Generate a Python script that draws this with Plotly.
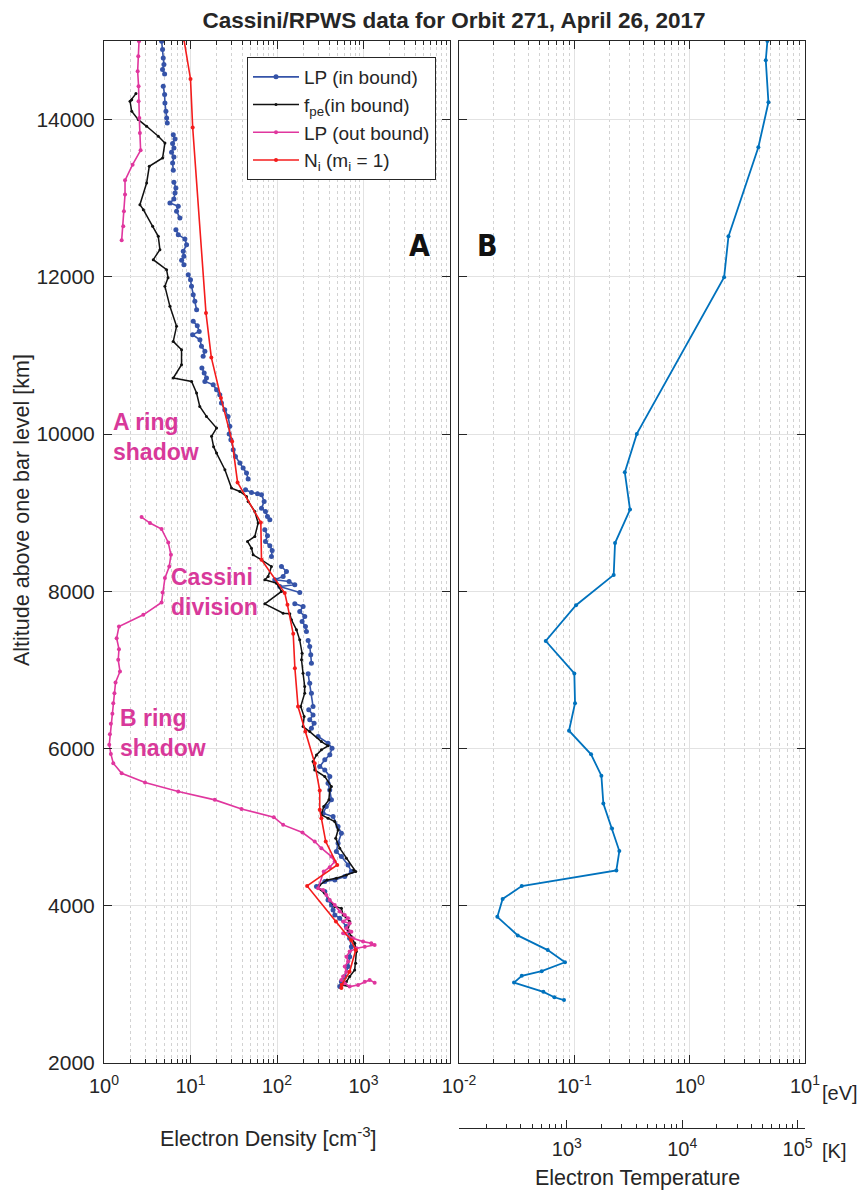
import math
import plotly.graph_objects as go

# ---------------- data ----------------
# LP (in bound): altitude [km], density [cm^-3]; None = gap between segments
lp_in_alt = [14997, 14891, 14785, 14700, 14636, 14581, None,
             14424, 14318, 14212, 14106, 14021, 13958, None,
             13809, 13754, 13695, 13640, 13584, 13525, 13449, 13355, None,
             13203, 13130, 13067, 12990, 12940, 12897, 12834, 12749, None,
             12600, 12537, 12482, 12409, 12325, 12261, 12210, 12155, None,
             12028, 11964, 11879, 11773, 11688, 11582, None,
             11434, 11379, 11306, 11264, 11200, 11116, 11052, 10989, None,
             10840, 10776, 10713, 10670, 10628, 10564, 10501, 10395, 10310, 10225, 10098, 10000,
             9928, 9801, 9716, 9631, 9567, 9504, 9427, None,
             9291, 9258, 9241, 9228, 9143, 9058, 9016, 8952, 8910, None,
             8783, 8706, 8634, 8579, 8520, 8443, None,
             8316, 8252, 8189, 8146, 8125, 8083, 8061, 7985, None,
             7841, 7807, 7743, 7680, 7616, 7552, 7489, None,
             7374, 7298, 7192, 7086, None,
             6950, 6831, 6704, 6535, None,
             6492, 6428, 6365, 6322, 6259, None,
             6153, 6068, 6004, 5920, 5856, 5771, 5728, 5644, 5559, 5474, 5347, 5262, 5177, 5135,
             5007, 4923, 4795, 4689, 4626, 4520, 4435, 4371, 4329, 4308, 4244, 4180, 4074, 4011,
             3947, 3883, 3841, 3735, 3586, 3480, 3353, 3226, 3099, 3035, 2972]
lp_in_ne = [4.64, 4.75, 4.84, 4.93, 4.75, 5.02, None,
            4.84, 5.02, 5.06, 5.20, 5.30, 5.39, None,
            6.32, 6.61, 6.21, 6.43, 6.04, 6.43, 6.21, 6.32, None,
            6.43, 6.78, 6.61, 6.43, 5.78, 7.22, 6.90, 7.54, None,
            6.78, 7.22, 8.61, 9.01, 8.25, 8.39, 7.90, 8.39, None,
            9.41, 10.0, 10.27, 10.75, 11.23, 11.77, None,
            10.75, 11.97, 12.6, 10.57, 12.85, 13.4, 14.66, 14.0, None,
            13.54, 14.4, 15.3, 14.66, 18.3, 20.0, 21.8, 22.8, 24.9, 27.2, 28.5, 28.0,
            29.3, 31.2, 33.1, 37.2, 40.6, 44.4, 46.4, None,
            43.3, 50.7, 59.5, 66.2, 71.0, 66.2, 73.6, 77.6, 82.6, None,
            72.3, 77.6, 73.6, 82.6, 87.9, 86.3, None,
            112.6, 128.6, 117.8, 94.3, 138, 160.6, 107.6, 183.3, None,
            160.6, 200.4, 183.3, 209.4, 195, 213.3, 218.9, None,
            229, 239, 245.6, 250, None,
            229, 239, 250, 261, None,
            232.8, 261, 239, 268.5, 250, None,
            298.5, 389, 433, 408, 357, 312, 357, 408, 389, 407, 426, 372, 341, 445,
            508, 555, 508, 486, 555, 663, 724, 607, 466, 357, 286, 357, 389, 426,
            445, 466, 531, 634, 692, 724, 692, 663, 607, 555, 531]

# f_pe (in bound)
fpe_alt = [14331, 14254, 14233, 14106, 14000, 13915, 13788, 13703, 13512, 13406, 13194, 12918,
           12855, 12643, 12515, 12346, 12218, 12091, 11990, 11879, 11625, 11370, 11179, 11073,
           10882, 10713, 10670, 10522, 10352, 10225, 10077, 9971, 9840, 9758, 9546, 9313, 9270,
           9207, 9143, 9016, 8868, 8698, 8634, 8549, 8464, 8401, 8316, 8189, 8146, 8104, 7998,
           7841, 7722, 7715, 7637, 7510, 7383, 7213, 7128, 6959, 6789, 6704, 6535, 6407, 6280,
           6216, 6089, 6034, 5983, 5919, 5835, 5728, 5644, 5517, 5474, 5347, 5262, 5156, 5113,
           5071, 4965, 4859, 4732, 4604, 4456, 4435, 4392, 4350, 4329, 4265, 4223, 4159, 4074,
           3990, 3968, 3883, 3799, 3693, 3608, 3523, 3417, 3268, 3183, 3099, 3035, 2993, 2972]
fpe_ne = [2.34, 2.09, 2.00, 2.09, 2.49, 3.11, 4.24, 5.06, 4.76, 3.34, 3.11, 2.60,
          2.85, 3.65, 4.24, 4.43, 3.71, 5.29, 5.50, 5.06, 5.78, 6.90, 6.32, 7.88,
          7.88, 6.32, 10.3, 11.75, 12.8, 15.3, 20.0, 17.5, 18.5, 20.0, 25.0, 29.8, 37.2,
          44.4, 46.4, 55.4, 60.5, 55.4, 45.6, 50.7, 53.0, 66.2, 86.3, 79.0, 72.3, 98.6, 112.6,
          72.3, 117.8, 140.6, 147, 168, 183, 195, 192, 200, 209, 209, 188, 206, 200,
          239, 326, 389, 326, 286, 261, 273, 357, 426, 407, 398, 347, 326, 389,
          465, 508, 477, 531, 634, 771, 813, 634, 486, 379, 312, 298, 357, 407,
          465, 555, 581, 692, 663, 724, 791, 828, 813, 791, 692, 634, 555, 692]

# LP (out bound)
lp_out_alt = [14997, 14806, 14615, 14424, 14233, 14021, 13830, 13610, 13427, 13228, 13046, 12834,
              12643, 12464, None,
              8944, 8868, 8791, 8622, 8465, 8316, 8168, 7985, 7858, 7701, 7553, 7404, 7264, 7128,
              6980, 6840, 6704, 6577, 6441, 6314, 6183, 6047, 5932, 5814, 5686, 5567, 5453, 5347,
              5232, 5126, 5029, 4931, 4817, 4732, 4626, 4562, 4490, 4435, 4223, 4201, 4138, 4074,
              4011, 3926, 3883, 3841, 3799, 3777, 3714, 3671, 3650, 3586, 3544, 3523, 3502, 3480,
              3459, 3417, 3353, 3290, 3226, 3162, 3099, 3056, 3014, 2972, 2993, 3035, 3056, 3022]
lp_out_ne = [2.54, 2.49, 2.45, 2.51, 2.51, 2.56, 2.60, 2.65, 2.14, 1.75, 1.75, 1.70,
             1.67, 1.60, None,
             2.72, 3.40, 4.63, 5.53, 5.94, 5.68, 5.06, 4.76, 4.63, 2.85, 1.49, 1.40, 1.49, 1.46,
             1.53, 1.36, 1.32, 1.28, 1.25, 1.20, 1.17, 1.15, 1.20, 1.28, 1.60, 2.98, 7.22, 19.1,
             38.9, 91.8, 117.8, 197, 273, 326, 426, 465, 407, 347, 298.5, 341, 372, 407,
             465, 531, 607, 663, 581, 692, 634, 724, 581, 757, 988, 1230, 1346, 1033,
             828, 692, 634, 663, 607, 634, 581, 555, 607, 692, 865, 1033, 1178, 1346]

# N_i (m_i = 1)
ni_alt = [15018, 14517, 13900, 11540, 10975, 10460, 9907, 9385, 8876, 8401, 7977, 7828, 7459,
          7022, 6535, 6216, 5813, 5465, 5220, 5113, 4817, 4520, 4252, 3800, 3560, 3438, 3160,
          2995, 2955]
ni_ne = [8.4, 10.0, 10.6, 15.1, 17.4, 22.5, 30.3, 35.0, 65.0, 66.2, 123, 132, 154,
         161, 175, 213, 273, 312, 312, 326, 366, 497, 223, 480, 720, 813, 690,
         560, 555]

# Electron temperature (panel B)
te_alt = [15000, 14755, 14220, 13648, 12515, 11996, 10002, 9514, 9040, 8614, 8209, 7823, 7368,
          6955, 6577, 6227, 5927, 5655, 5300, 4982, 4696, 4450, 4250, 4087, 3859, 3623, 3436,
          3282, 3168, 3109, 3023, 2905, 2836, 2800]
te_ev = [4.72, 4.57, 4.82, 3.94, 2.17, 1.99, 0.348, 0.274, 0.304, 0.2254, 0.2195, 0.1034, 0.0565,
         0.100, 0.1014, 0.0899, 0.1396, 0.1716, 0.1785, 0.2123, 0.2456, 0.2314, 0.0350, 0.0239,
         0.0215, 0.0323, 0.0588, 0.0830, 0.0521, 0.0350, 0.0300, 0.0539, 0.0671, 0.0814]

# tick labels
ne_ticks = [1, 10, 100, 1000]
ne_ticktext = ["10<sup>0</sup>", "10<sup>1</sup>", "10<sup>2</sup>", "10<sup>3</sup>"]
ev_ticks = [0.01, 0.1, 1, 10]
ev_ticktext = ["10<sup>-2</sup>", "10<sup>-1</sup>", "10<sup>0</sup>", "10<sup>1</sup>"]
k_ticks = [1e3, 1e4, 1e5]
k_ticktext = ["10<sup>3</sup>", "10<sup>4</sup>", "10<sup>5</sup>"]
alt_ticks = [2000, 4000, 6000, 8000, 10000, 12000, 14000]
alt_ticktext = ["2000", "4000", "6000", "8000", "10000", "12000", "14000"]

EV_TO_K = 11604.5
# ---------------------------------------------------------------

FONT = "Liberation Sans, Arial, Helvetica, sans-serif"
AXC = "#262626"
GRID = "#e2e2e2"
MINGRID = "#d2d2d2"
BLUE = "#3553a8"
BLACK = "#111111"
PINK = "#e0369e"
RED = "#f41c1c"
TBLUE = "#0072bd"
LABEL_PINK = "#d8399a"

# page geometry (the page body adds an 8 px offset)
OFF = 8
PL, PR, PT, PB = 104, 805, 41, 1128          # plotting area in page pixels
W, H = 866 - OFF, 1190 - OFF
PW, PH = PR - PL, PB - PT


def px(x):
    return (x - PL) / PW


def py(y):
    return (PB - y) / PH


def minor_vals(e0, e1):
    return [m * 10 ** e for e in range(e0, e1) for m in range(2, 10)]


fig = go.Figure()
fig.add_trace(go.Scatter(x=lp_in_ne, y=lp_in_alt, mode="lines+markers", name="LP (in bound)",
                         legendgroup="a", line=dict(color=BLUE, width=1.6),
                         marker=dict(color=BLUE, size=5), connectgaps=False,
                         xaxis="x", yaxis="y"))
fig.add_trace(go.Scatter(x=fpe_ne, y=fpe_alt, mode="lines+markers", name="f<sub>pe</sub>(in bound)",
                         legendgroup="b", line=dict(color=BLACK, width=1.5),
                         marker=dict(color=BLACK, size=3), xaxis="x", yaxis="y"))
fig.add_trace(go.Scatter(x=lp_out_ne, y=lp_out_alt, mode="lines+markers", name="LP (out bound)",
                         legendgroup="c", line=dict(color=PINK, width=1.6),
                         marker=dict(color=PINK, size=4), connectgaps=False,
                         xaxis="x", yaxis="y"))
fig.add_trace(go.Scatter(x=ni_ne, y=ni_alt, mode="lines+markers",
                         name="N<sub>i</sub> (m<sub>i</sub> = 1)", legendgroup="d",
                         line=dict(color=RED, width=1.6), marker=dict(color=RED, size=4),
                         xaxis="x", yaxis="y"))
fig.add_trace(go.Scatter(x=te_ev, y=te_alt, mode="lines+markers", showlegend=False,
                         line=dict(color=TBLUE, width=1.8), marker=dict(color=TBLUE, size=4),
                         xaxis="x2", yaxis="y2"))
# invisible carrier trace for the Kelvin axis
fig.add_trace(go.Scatter(x=[v * EV_TO_K for v in te_ev], y=te_alt, mode="lines", showlegend=False,
                         line=dict(width=0), opacity=0, hoverinfo="skip",
                         xaxis="x3", yaxis="y2"))

xtickfont = dict(family=FONT, size=20, color=AXC)
ytickfont = dict(family=FONT, size=21, color=AXC)
common_x = dict(type="log", showline=True, linecolor=AXC, linewidth=1, mirror="ticks",
                ticks="inside", ticklen=8, tickcolor=AXC, showgrid=True, gridcolor=GRID,
                gridwidth=1, zeroline=False, tickfont=xtickfont, tickmode="array",
                ticklabelstandoff=5)

xa_end = px(450)
xb_start = px(459)
y_bottom = py(1063)

fig.update_layout(
    width=W, height=H,
    margin=dict(l=PL - OFF, r=W - (PR - OFF), t=PT - OFF, b=H - (PB - OFF), autoexpand=False),
    paper_bgcolor="white", plot_bgcolor="white",
    font=dict(family=FONT, color=AXC),
    showlegend=True,
    legend=dict(x=px(247), y=py(57), xanchor="left", yanchor="top",
                bordercolor=AXC, borderwidth=1, bgcolor="white", itemwidth=46,
                font=dict(family=FONT, size=19, color=AXC), tracegroupgap=0),
    title=dict(text="<b>Cassini/RPWS data for Orbit 271, April 26, 2017</b>",
               x=(454 - OFF) / W, xanchor="center", y=1 - (20 - OFF) / H, yanchor="middle",
               xref="container", yref="container",
               font=dict(family=FONT, size=22.5, color=AXC)),
    xaxis=dict(common_x, domain=[0, xa_end], range=[0, 4], anchor="y",
               tickvals=ne_ticks, ticktext=ne_ticktext,
               minor=dict(tickmode="array", tickvals=minor_vals(0, 4), ticks="inside", ticklen=4,
                          tickcolor=AXC, showgrid=True, gridcolor=MINGRID, griddash="dot")),
    xaxis2=dict(common_x, domain=[xb_start, 1], range=[-2, 1], anchor="y2",
                tickvals=ev_ticks, ticktext=ev_ticktext,
                minor=dict(tickmode="array", tickvals=minor_vals(-2, 1), ticks="inside", ticklen=4,
                           tickcolor=AXC, showgrid=True, gridcolor=MINGRID, griddash="dot")),
    xaxis3=dict(type="log", overlaying="x2", anchor="free", position=0, side="bottom",
                range=[math.log10(0.01 * EV_TO_K), math.log10(10 * EV_TO_K)],
                showline=True, linecolor=AXC, linewidth=1, ticks="inside", ticklen=8,
                tickcolor=AXC, showgrid=False, zeroline=False, tickfont=xtickfont,
                tickmode="array", tickvals=k_ticks, ticktext=k_ticktext, ticklabelstandoff=3,
                minor=dict(tickmode="array", tickvals=minor_vals(2, 5), ticks="inside",
                           ticklen=4, tickcolor=AXC, showgrid=False)),
    yaxis=dict(domain=[y_bottom, 1], range=[2000, 15000], anchor="x", showline=True,
               linecolor=AXC, linewidth=1, mirror="ticks", ticks="inside", ticklen=8,
               tickcolor=AXC, showgrid=True, gridcolor=GRID, zeroline=False,
               tickmode="array", tickvals=alt_ticks, ticktext=alt_ticktext,
               tickfont=ytickfont, ticklabelstandoff=4),
    yaxis2=dict(domain=[y_bottom, 1], range=[2000, 15000], anchor="x2", matches="y",
                showline=True, linecolor=AXC, linewidth=1, mirror="ticks", ticks="inside",
                ticklen=8, tickcolor=AXC, showgrid=True, gridcolor=GRID, zeroline=False,
                tickmode="array", tickvals=alt_ticks, showticklabels=False),
)

LBL = dict(family=FONT, size=21.5, color=AXC)
ann = []
ann.append(dict(text="Altitude above one bar level [km]", xref="paper", yref="paper",
                x=px(22), y=py(510), textangle=-90, showarrow=False,
                xanchor="center", yanchor="middle", font=LBL))
ann.append(dict(text="Electron Density [cm<sup>-3</sup>]", xref="paper", yref="paper",
                x=px(268), y=py(1137), showarrow=False,
                xanchor="center", yanchor="middle", font=LBL))
ann.append(dict(text="Electron Temperature", xref="paper", yref="paper",
                x=px(637), y=py(1178), showarrow=False,
                xanchor="center", yanchor="middle", font=LBL))
ann.append(dict(text="[eV]", xref="paper", yref="paper",
                x=px(820), y=py(1093), showarrow=False,
                xanchor="left", yanchor="middle", font=dict(family=FONT, size=20, color=AXC)))
ann.append(dict(text="[K]", xref="paper", yref="paper",
                x=px(820), y=py(1151), showarrow=False,
                xanchor="left", yanchor="middle", font=dict(family=FONT, size=20, color=AXC)))
# panel letters
LETTER = dict(family="Liberation Sans Narrow, DejaVu Sans Condensed, " + FONT,
              size=30, color="#111111")
ann.append(dict(text="<b>A</b>", xref="paper", yref="paper", x=px(419), y=py(245),
                showarrow=False, xanchor="center", yanchor="middle", font=LETTER))
ann.append(dict(text="<b>B</b>", xref="paper", yref="paper", x=px(487), y=py(245),
                showarrow=False, xanchor="center", yanchor="middle", font=LETTER))
# region labels
for txt, lx, ly in [("A ring<br>shadow", 111, 437), ("Cassini<br>division", 169, 592),
                    ("B ring<br>shadow", 118, 733)]:
    ann.append(dict(text="<b>" + txt + "</b>", xref="paper", yref="paper",
                    x=px(lx), y=py(ly), showarrow=False,
                    xanchor="left", yanchor="middle", align="left",
                    font=dict(family=FONT, size=23, color=LABEL_PINK)))
fig.update_layout(annotations=ann)

fig.write_html("out.html")
